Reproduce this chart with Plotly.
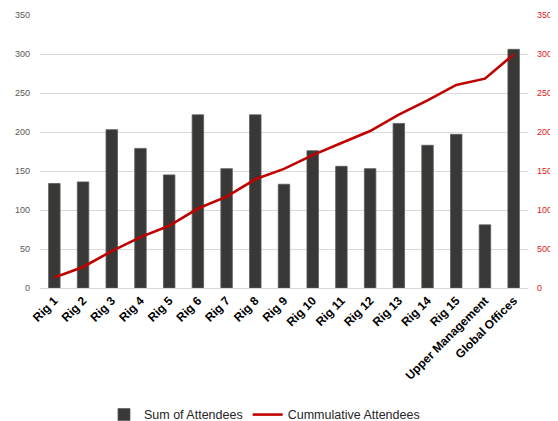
import plotly.graph_objects as go

categories = ["Rig 1", "Rig 2", "Rig 3", "Rig 4", "Rig 5", "Rig 6", "Rig 7", "Rig 8", "Rig 9",
              "Rig 10", "Rig 11", "Rig 12", "Rig 13", "Rig 14", "Rig 15",
              "Upper Management", "Global Offices"]
attendees = [134, 136, 203, 179, 145, 222, 153, 222, 133, 176, 156, 153, 211, 183, 197, 81, 306]
cumulative = [134, 270, 473, 652, 797, 1019, 1172, 1394, 1527, 1703, 1859, 2012, 2223, 2406, 2603, 2684, 2995]

left_ticks = [0, 50, 100, 150, 200, 250, 300, 350]
right_ticks = [0, 500, 1000, 1500, 2000, 2500, 3000, 3500]

fig = go.Figure()
fig.add_trace(go.Bar(x=categories, y=attendees, name="Sum of Attendees",
                     marker=dict(color="#393837", line=dict(color="#5a5a5a", width=0.8)),
                     yaxis="y"))
fig.add_trace(go.Scatter(x=categories, y=cumulative, name="Cummulative Attendees",
                         mode="lines", line=dict(color="#c00000", width=2.6),
                         yaxis="y2"))

# page body has an 8px margin, so the figure is sized to fill the visible window
fig.update_layout(
    width=550, height=413,
    margin=dict(l=32, r=30, t=7, b=133, autoexpand=False),
    paper_bgcolor="white", plot_bgcolor="white",
    bargap=0.6,
    font=dict(family="Liberation Sans", size=9, color="#595959"),
    xaxis=dict(tickangle=-45, tickfont=dict(family="Liberation Sans", size=12, color="#000000", weight="bold"),
               showgrid=False, showline=True, linecolor="#d9d9d9", ticks="", automargin=False),
    yaxis=dict(range=[0, 350], tickvals=left_ticks, showgrid=True, gridcolor="#d9d9d9",
               gridwidth=1, zeroline=False, ticks="", ticklabelstandoff=9, automargin=False,
               tickfont=dict(size=9, color="#595959")),
    yaxis2=dict(range=[0, 3500], tickvals=right_ticks, overlaying="y", side="right",
                showgrid=False, zeroline=False, ticks="", ticklabelstandoff=8, automargin=False,
                tickfont=dict(size=9, color="#e0201a")),
    legend=dict(orientation="h", x=0.46, xanchor="center", y=-0.465, yanchor="middle",
                font=dict(size=12.5, color="#262626"), traceorder="normal"),
    showlegend=True,
)

fig.write_html("out.html")
